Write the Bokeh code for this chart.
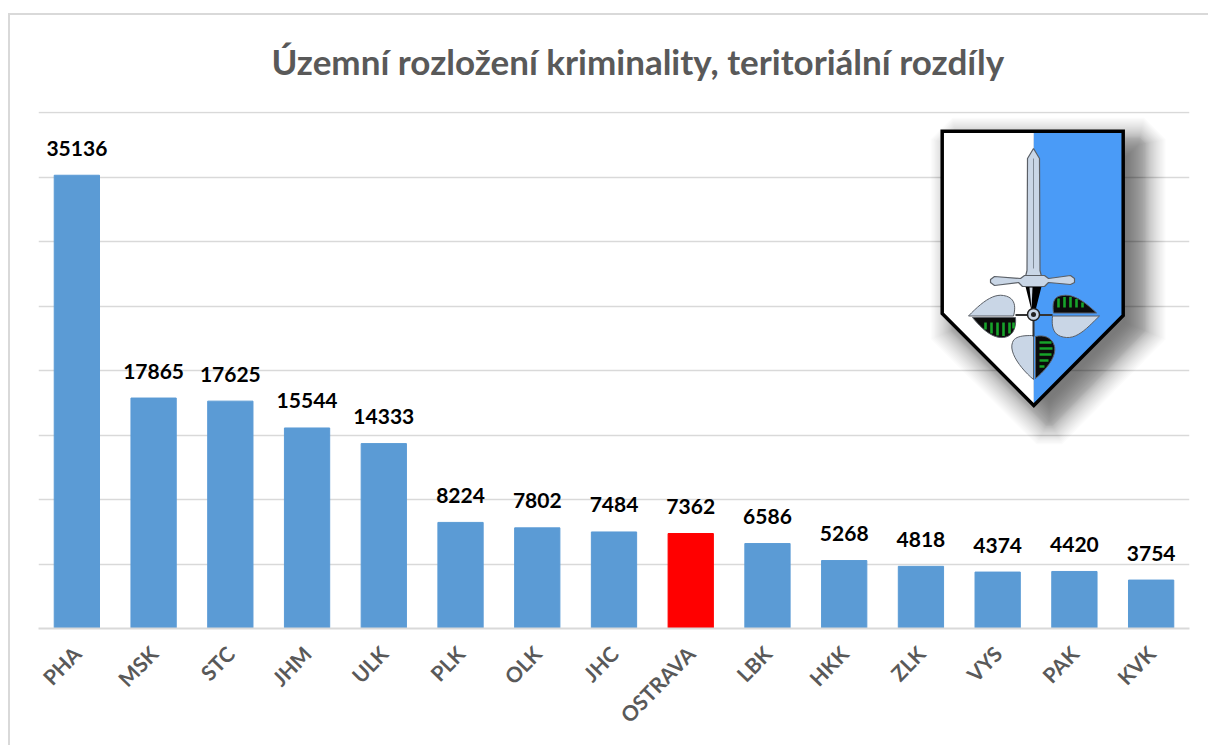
from bokeh.plotting import figure
from bokeh.embed import file_html
from bokeh.resources import INLINE
from bokeh.models import Range1d, FactorRange, ColumnDataSource, InlineStyleSheet
from bokeh.core.properties import value

regions = ["PHA","MSK","STC","JHM","ULK","PLK","OLK","JHC","OSTRAVA","LBK","HKK","ZLK","VYS","PAK","KVK"]
counts = [35136,17865,17625,15544,14333,8224,7802,7484,7362,6586,5268,4818,4374,4420,3754]
highlight = "OSTRAVA"
title = "Územní rozložení kriminality, teritoriální rozdíly"

src = ColumnDataSource(dict(
    region=regions, count=counts, label=[str(c) for c in counts],
    color=["#ff0000" if r == highlight else "#5b9bd5" for r in regions]))

p = figure(width=1208, height=745, output_backend="svg", toolbar_location=None,
           x_range=FactorRange(*regions, range_padding=0), y_range=Range1d(0, 40000 * 517 / 516),
           min_border_left=38, min_border_right=19, min_border_top=111, min_border_bottom=117)
p.x_range.factor_padding = 0
p.outline_line_color = None
p.background_fill_color = "white"
p.border_fill_color = "white"

# outer frame of the picture (left and top edges; the others run off the page)
p.stylesheets = [InlineStyleSheet(css=""":host::before {
    content: ""; position: absolute; left: 8px; top: 13px; width: 1200px; height: 732px;
    border-left: 2px solid #d9d9d9; border-top: 2px solid #d9d9d9;
    box-sizing: border-box; z-index: 10; pointer-events: none; }""")]

p.title.text = title
p.title.align = "left"
p.title.text_font = "Lato"
p.title.text_font_style = "bold"
p.title.text_font_size = "35px"
p.title.text_color = "#595959"
p.title.offset = 233
p.title.standoff = 59

p.yaxis.visible = False
p.ygrid.ticker = [0,5000,10000,15000,20000,25000,30000,35000,40000]
p.ygrid.grid_line_color = "#d9d9d9"
p.ygrid.grid_line_width = 1.5
p.xgrid.visible = False

ax = p.xaxis[0]
ax.axis_line_color = "#d9d9d9"
ax.axis_line_width = 2
ax.major_tick_line_color = None
ax.minor_tick_line_color = None
ax.major_label_orientation = 0.8
ax.major_label_text_font = "Lato"
ax.major_label_text_font_style = "bold"
ax.major_label_text_font_size = "21px"
ax.major_label_text_color = "#595959"
ax.major_label_standoff = 15

p.vbar(x="region", top="count", width=0.59, bottom=0, color="color", source=src)
p.text(x="region", y="count", text="label", source=src, text_align="center", text_baseline="middle",
       y_offset=-27, text_font=value("Lato"), text_font_style="bold", text_font_size="21px", text_color="#000000")

# the shield, given in picture pixels: numeric x on a factor range is its synthetic coordinate
p.extra_y_ranges["px"] = Range1d(628, 111)
kw = dict(y_range_name="px")
def X(vals):
    return [(v - 38) / (1151 / 15) for v in vals]

def curve(*segs):
    """Cubic Bezier chain: start point, then triples of control, control, end."""
    xs, ys = [segs[0][0]], [segs[0][1]]
    cur = segs[0]
    for c1, c2, e in zip(segs[1::3], segs[2::3], segs[3::3]):
        for k in range(1, 13):
            t = k / 12
            a, b, c, d = (1-t)**3, 3*(1-t)**2*t, 3*(1-t)*t**2, t**3
            xs.append(a*cur[0] + b*c1[0] + c*c2[0] + d*e[0])
            ys.append(a*cur[1] + b*c1[1] + c*c2[1] + d*e[1])
        cur = e
    return xs, ys

L, R, T, M, Sh, B = 941.7, 1122.7, 130.7, 1033.3, 314, 405
sx = [L, R, R, M, L]
sy = [T, T, 315, B, 313]

# soft shadow: stacked translucent outlines, shifted down and to the right
ox, oy = 15.5, 13.5
n = 40
for i in range(n):
    w = 1 - 2 * i / (n - 1)
    d = 7 + 20 * (abs(w) ** 1.4) * (1 if w >= 0 else -1)
    c = max(d, 0) * 0.8
    p.patch(X([ox + v for v in [L-d+c, R+d-c, R+d, R+d, M+c*0.6, M-c*0.6, L-d, L-d]]),
            [oy + v for v in [T-d, T-d, T-d+c, Sh+0.414*d, B+1.414*d-c*0.6, B+1.414*d-c*0.6, Sh+0.414*d, T-d+c]],
            fill_color="#000000", fill_alpha=0.017, line_color=None, **kw)

p.patch(X([L, M, M, L]), [T, T, B, 313], fill_color="white", line_color=None, **kw)
p.patch(X([M, R, R, M]), [T, T, 315, B], fill_color="#4a9bf7", line_color=None, **kw)
p.patch(X(sx), sy, fill_color=None, fill_alpha=0, line_color="black", line_width=3.5, line_join="miter", **kw)

steel = "#c9d6e6"
edge = "#5a5f66"
g = "#17a32a"
# leaves, dark halves with green veins
for pts in [
    [(972, 317), (982, 329), (992, 338), (1003, 337), (1012, 336), (1016, 328), (1015, 317)],
    [(1096, 312.5), (1086, 303), (1074, 293), (1062, 295), (1052, 296), (1052, 304), (1053, 312.5)],
    [(1035, 336), (1048, 333), (1056, 342), (1054, 352), (1052, 362), (1042, 372), (1035, 378)],
]:
    xs, ys = curve(*pts)
    p.patch(X(xs), ys, fill_color="#0b0b0b", line_color=edge, line_width=1, **kw)
for x0, y1 in [(985, 329), (991, 333), (997, 335), (1003, 335.5), (1009, 333), (1013, 328)]:
    p.line(X([x0, x0]), [322, y1], line_color=g, line_width=2.6, **kw)
for x0, y1 in [(1058, 298), (1064, 296.5), (1070, 296.5), (1076, 298.5), (1082, 302)]:
    p.line(X([x0, x0]), [307, y1], line_color=g, line_width=2.6, **kw)
for y0, x1 in [(342, 1051), (348, 1052), (354, 1051), (360, 1048), (366, 1044)]:
    p.line(X([1039, x1]), [y0, y0], line_color=g, line_width=2.6, **kw)
# leaves, steel halves
for pts in [
    [(968, 315.5), (980, 303), (992, 293), (1003, 295), (1016, 297), (1015, 308), (1013, 315.5)],
    [(1099, 315.5), (1089, 325), (1078, 338), (1066, 337), (1052, 336), (1051, 326), (1052, 315.5)],
    [(1033, 379), (1021, 369), (1008, 352), (1012, 342), (1014, 335), (1025, 335), (1033, 335)],
]:
    xs, ys = curve(*pts)
    p.patch(X(xs), ys, fill_color=steel, line_color=edge, line_width=1, **kw)
# grip
p.patch(X([1025, 1041, 1034, 1032]), [286, 286, 314, 314], fill_color="black", line_color=None, **kw)
p.patch(X([1029, 1032, 1031]), [287, 287, 308], fill_color="#cfd8e4", line_color=None, **kw)
# blade
p.patch(X([1033, 1039, 1039.5, 1041, 1025, 1026.5, 1027]), [148, 158, 270, 276, 276, 270, 158],
        fill_color=steel, line_color=edge, line_width=1.2, **kw)
p.line(X([1033, 1033]), [158, 268], line_color="#7f8a96", line_width=1, **kw)
# guard
p.patch(X([990, 994, 1020, 1024, 1044, 1048, 1070, 1074, 1074, 1070, 1048, 1044, 1022, 1018, 994, 990]),
        [279, 276, 278, 275, 275, 278, 275, 278, 282, 284, 282, 286, 286, 282, 285, 282],
        fill_color=steel, line_color=edge, line_width=1.2, **kw)
# cross bars and hub
p.line(X([1015, 1052]), [314.5, 314.5], line_color="#333333", line_width=2, **kw)
p.line(X([1033, 1033]), [314, 336], line_color="#333333", line_width=2, **kw)
p.scatter(X([1033]), [314], size=12, marker="circle", fill_color=steel, line_color="#222222", line_width=1.5, **kw)
p.scatter(X([1033]), [314], size=5, marker="circle", fill_color="#222222", line_color=None, **kw)

open("out.html", "w").write(file_html(p, INLINE))
